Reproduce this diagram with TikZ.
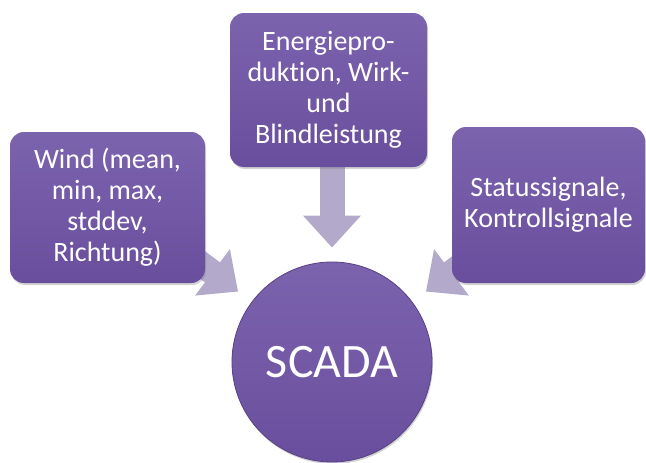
\documentclass[tikz,border=0pt]{standalone}
\usepackage{fontspec}
\setmainfont{Carlito}[Ligatures=NoCommon]
\usetikzlibrary{arrows.meta,shadows,backgrounds}
\definecolor{boxtop}{HTML}{7C63AE}
\definecolor{boxbot}{HTML}{694E9D}
\definecolor{arrowfill}{HTML}{B3A9CB}
\tikzset{
  infobox/.style={rounded corners=14pt, top color=boxtop, bottom color=boxbot,
    text=white, align=center, font=\fontsize{28}{31}\selectfont,
    drop shadow={opacity=0.35,shadow xshift=1pt,shadow yshift=-2pt}},
  hubcircle/.style={circle, minimum size=200pt, top color=boxtop, bottom color=boxbot,
    draw=boxbot!85!black, line width=0.8pt,
    text=white, font=\fontsize{48}{52}\selectfont,
    drop shadow={opacity=0.35,shadow xshift=1pt,shadow yshift=-2pt}},
  feedarrow/.style={draw=arrowfill, line width=25pt,
    -{Triangle[width=56pt,length=32pt]}}
}
\begin{document}
\begin{tikzpicture}[x=1pt,y=-1pt]
  \useasboundingbox (0,0) rectangle (646,463);
  % sources
  \node[infobox, minimum width=195pt, minimum height=151pt] (wind) at (107.5,207.5)
    {Wind (mean,\\min, max,\\stddev,\\Richtung)};
  \node[infobox, minimum width=197pt, minimum height=154pt] (energie) at (328.5,90)
    {Energiepro-\\duktion, Wirk-\\und\\Blindleistung};
  \node[infobox, minimum width=193pt, minimum height=156pt] (status) at (548.5,205)
    {Statussignale,\\Kontrollsignale};
  % hub
  \node[hubcircle] (scada) at (332,362) {SCADA};
  % arrows under the boxes
  \coordinate (windtail) at (180,248);
  \coordinate (statustail) at (484,248);
  \begin{scope}[on background layer]
    \draw[feedarrow, shorten >=17pt] (windtail) -- (scada);
    \draw[feedarrow, shorten >=14pt] (scada.north |- energie.south) -- (scada.north);
    \draw[feedarrow, shorten >=17pt] (statustail) -- (scada);
  \end{scope}
\end{tikzpicture}
\end{document}
